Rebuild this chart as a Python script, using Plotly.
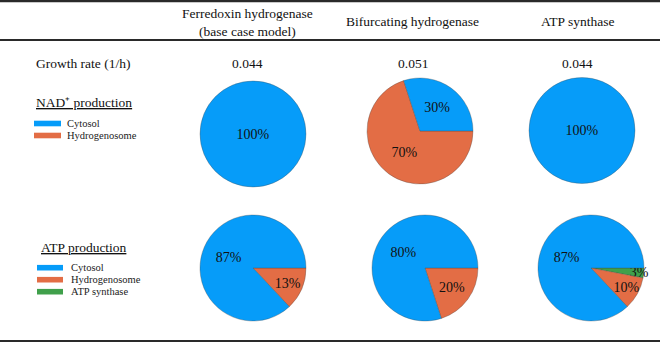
import plotly.graph_objects as go

# ---- data ----
column_titles = ["Ferredoxin hydrogenase<br>(base case model)", "Bifurcating hydrogenase", "ATP synthase"]
growth_rates = [0.044, 0.051, 0.044]

nad_labels = ["Cytosol", "Hydrogenosome"]
nad_values = [[100, 0], [30, 70], [100, 0]]

atp_labels = ["Cytosol", "Hydrogenosome", "ATP synthase"]
atp_values = [[87, 13, 0], [80, 20, 0], [87, 10, 3]]

# ---- styles / layout config ----
W, H = 660, 344
FONT = "Liberation Serif, Times New Roman, serif"
colors = {"Cytosol": "#069CF9", "Hydrogenosome": "#E36D45", "ATP synthase": "#40A04B"}
col_text_x = [248, 412.5, 577.5]
nad_centers = [(253, 134), (420, 131), (582, 130.5)]
atp_centers = [(253, 268), (425, 268), (591, 268)]
R = 53


def px_x(x):
    return x / W


def px_y(y):
    return 1 - y / H


fig = go.Figure()


def add_pie(labels, values, center):
    cx, cy = center
    labs = [l for l, v in zip(labels, values) if v > 0]
    vals = [v for v in values if v > 0]
    # slices run counterclockwise from 3 o'clock in the reference:
    # equivalent to reversed order running clockwise from 3 o'clock
    labs, vals = labs[::-1], vals[::-1]
    fig.add_trace(go.Pie(
        labels=labs,
        values=vals,
        sort=False,
        direction="clockwise",
        rotation=90,
        marker=dict(colors=[colors[l] for l in labs],
                    line=dict(color="rgba(70,70,70,0.55)", width=0.6)),
        texttemplate="%{value}%",
        textposition="inside",
        insidetextorientation="horizontal",
        textfont=dict(family=FONT, size=14, color="#111"),
        hoverinfo="label+value",
        showlegend=False,
        domain=dict(x=[px_x(cx - R), px_x(cx + R)],
                    y=[px_y(cy + R), px_y(cy - R)]),
    ))


for vals, c in zip(nad_values, nad_centers):
    add_pie(nad_labels, vals, c)
for vals, c in zip(atp_values, atp_centers):
    add_pie(atp_labels, vals, c)

annotations = []
# column headers
header_y = [22, 21, 21]
for t, x, y in zip(column_titles, col_text_x, header_y):
    annotations.append(dict(text=t, x=px_x(x), y=px_y(y), xref="paper", yref="paper",
                            xanchor="center", yanchor="middle", showarrow=False,
                            font=dict(family=FONT, size=13.5, color="#111")))
# growth rate row
annotations.append(dict(text="Growth rate (1/h)", x=px_x(34), y=px_y(63), xref="paper", yref="paper",
                        xanchor="left", yanchor="middle", showarrow=False,
                        font=dict(family=FONT, size=13.5, color="#111")))
for g, x in zip(growth_rates, col_text_x):
    annotations.append(dict(text=f"{g:.3f}", x=px_x(x), y=px_y(63), xref="paper", yref="paper",
                            xanchor="center", yanchor="middle", showarrow=False,
                            font=dict(family=FONT, size=13.5, color="#111")))

shapes = []


def add_legend(title, title_xy, labels, sw_x, item_y0, label_x):
    tx, ty = title_xy
    annotations.append(dict(text=f"<u>{title}</u>", x=px_x(tx), y=px_y(ty), xref="paper", yref="paper",
                            xanchor="left", yanchor="middle", showarrow=False,
                            font=dict(family=FONT, size=13.5, color="#111")))
    for i, lab in enumerate(labels):
        y = item_y0 + i * 12
        shapes.append(dict(type="rect", xref="paper", yref="paper",
                           x0=px_x(sw_x[0]), x1=px_x(sw_x[1]),
                           y0=px_y(y + 2.8), y1=px_y(y - 2.8),
                           fillcolor=colors[lab], line=dict(width=0)))
        annotations.append(dict(text=lab, x=px_x(label_x), y=px_y(y), xref="paper", yref="paper",
                                xanchor="left", yanchor="middle", showarrow=False,
                                font=dict(family=FONT, size=10.5, color="#222")))


add_legend("NAD\u207a production", (34, 102), nad_labels, (34, 61), 123.5, 65)
add_legend("ATP production", (39, 247), atp_labels, (37, 63), 267.7, 69)

# table rules
for y, w in [(1, 2.5), (40, 2), (341, 2)]:
    shapes.append(dict(type="line", xref="paper", yref="paper", x0=0, x1=1,
                       y0=px_y(y), y1=px_y(y), line=dict(color="#2a2a2a", width=w)))

fig.update_layout(
    width=W, height=H,
    margin=dict(l=0, r=0, t=0, b=0),
    paper_bgcolor="white",
    plot_bgcolor="white",
    annotations=annotations,
    shapes=shapes,
    showlegend=False,
    font=dict(family=FONT),
    uniformtext=dict(minsize=14, mode="show"),
)

fig.write_html("out.html", config={"displayModeBar": False},
               post_script="document.body.style.margin='0';document.body.style.padding='0';")
